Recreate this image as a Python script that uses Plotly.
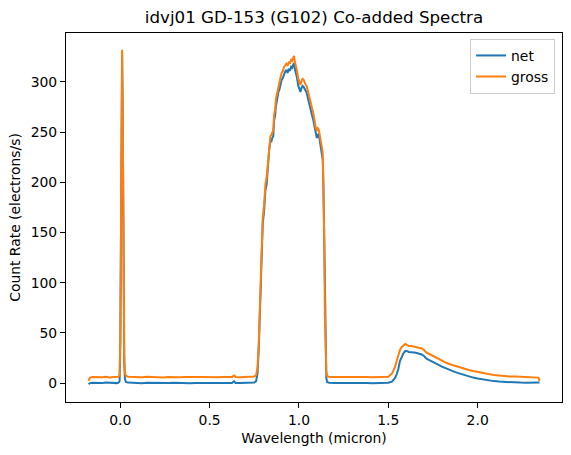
import plotly.graph_objects as go

# Wavelength (micron)
wavelength = [
    -0.178, -0.170, -0.155, -0.140, -0.120, -0.100, -0.080, -0.060, -0.040, -0.020,
    -0.010, -0.004, 0.000, 0.005, 0.010, 0.014, 0.018, 0.022, 0.026, 0.032,
    0.045, 0.06, 0.09, 0.12, 0.15, 0.18, 0.21, 0.24, 0.27, 0.30,
    0.33, 0.36, 0.39, 0.42, 0.45, 0.48, 0.51, 0.54, 0.57, 0.60,
    0.625, 0.637, 0.645, 0.67, 0.70, 0.73, 0.75, 0.76, 0.768, 0.775,
    0.782, 0.790, 0.797, 0.805, 0.812, 0.819, 0.826, 0.833, 0.840, 0.845,
    0.850, 0.856, 0.861, 0.866, 0.871, 0.875, 0.880, 0.885, 0.890, 0.896,
    0.903, 0.910, 0.916, 0.922, 0.929, 0.936, 0.943, 0.950, 0.956, 0.962,
    0.968, 0.972, 0.977, 0.983, 0.990, 0.996, 1.002, 1.008, 1.014, 1.020,
    1.026, 1.032, 1.038, 1.043, 1.050, 1.056, 1.062, 1.068, 1.074, 1.080,
    1.086, 1.091, 1.095, 1.100, 1.105, 1.110, 1.115, 1.121, 1.127, 1.133,
    1.137, 1.141, 1.145, 1.149, 1.153, 1.158, 1.17, 1.20, 1.23, 1.26,
    1.29, 1.32, 1.35, 1.38, 1.41, 1.44, 1.47, 1.50, 1.52, 1.537,
    1.547, 1.556, 1.565, 1.575, 1.585, 1.595, 1.603, 1.615, 1.630, 1.645,
    1.659, 1.672, 1.687, 1.700, 1.712, 1.724, 1.740, 1.760, 1.780, 1.800,
    1.827, 1.850, 1.875, 1.901, 1.925, 1.950, 1.975, 2.000, 2.030, 2.060,
    2.090, 2.120, 2.150, 2.180, 2.210, 2.240, 2.270, 2.300, 2.330, 2.340,
    2.346,
]

# Net count rate (electrons/s)
net = [
    -1.0, 0.0, 0.3, 0.1, 0.4, 0.2, 0.5, 0.1, 0.3, 0.0,
    0.5, 2.0, 40, 180, 327, 250, 90, 20, 4, 1.0,
    0.5, 0.3, 0.2, -0.1, 0.3, 0.1, 0.2, -0.2, 0.1, 0.3,
    0.0, 0.2, -0.1, 0.1, 0.2, 0.0, 0.1, -0.1, 0.2, 0.0,
    0.1, 1.8, 0.2, 0.0, 0.1, 0.3, 0.6, 2, 10, 35,
    80, 130, 158, 172, 192, 198, 216, 232, 241, 240,
    244, 246, 262, 266, 276, 281, 286, 290, 292, 298,
    302, 304, 308, 310, 312, 309, 313, 311, 315, 314,
    317, 319, 313, 309, 303, 296, 293, 290, 294, 296,
    295, 292, 291, 289, 283, 278, 275, 270, 266, 262,
    256, 250, 246, 244, 248, 247, 243, 236, 230, 222,
    195, 140, 60, 18, 5, 1.0, 0.3, 0.1, 0.2, -0.1,
    0.2, 0.0, 0.1, 0.2, -0.1, 0.1, 0.2, 0.3, 1.5, 5,
    9, 14, 22, 27, 30, 32, 32, 31, 31, 30.5,
    30, 29.5, 28.5, 27, 24.5, 23.5, 22, 20, 18, 16.5,
    14.5, 12.5, 11, 9.5, 8, 6.5, 5.5, 4.5, 3.5, 2.8,
    2, 1.5, 1.1, 0.8, 0.6, 0.5, 0.4, 0.4, 0.3, 0.4,
    0.5,
]

# Gross count rate (electrons/s)
gross = [
    2.4, 5.5, 6.0, 5.8, 6.2, 5.9, 6.3, 5.7, 6.1, 5.9,
    6.4, 8.0, 45, 190, 332, 258, 96, 26, 10, 7.0,
    6.4, 6.2, 6.1, 5.8, 6.3, 6.0, 6.2, 5.7, 6.0, 6.3,
    5.9, 6.1, 5.8, 6.1, 6.2, 5.9, 6.0, 5.8, 6.1, 5.9,
    6.0, 7.8, 6.1, 5.9, 6.0, 6.2, 6.6, 8, 16, 41,
    86, 137, 165, 178, 198, 205, 222, 238, 246, 247,
    250, 252, 268, 272, 283, 287, 292, 296, 299, 304,
    309, 311, 315, 317, 318, 316, 320, 318, 322, 321,
    324, 326, 320, 316, 310, 303, 300, 297, 301, 303,
    302, 299, 297, 296, 290, 285, 282, 277, 273, 269,
    263, 256, 253, 252, 254, 253, 249, 242, 236, 229,
    202, 147, 67, 25, 11, 7.0, 6.2, 6.0, 6.1, 5.8,
    6.1, 5.9, 6.0, 6.2, 5.8, 6.0, 6.1, 6.3, 9.5, 16,
    22, 29, 33, 36, 38, 39, 38, 37, 37, 36.5,
    36, 35.5, 34.5, 33, 30.5, 29.5, 28, 26, 24, 22,
    20, 18.5, 17, 15.5, 14, 13, 12, 11, 10, 9,
    8.2, 7.5, 7.0, 6.6, 6.5, 6.4, 6.3, 6.1, 5.9, 5.5,
    2.0,
]

x_ticks = [0.0, 0.5, 1.0, 1.5, 2.0]
x_tick_text = ["0.0", "0.5", "1.0", "1.5", "2.0"]
y_ticks = [0, 50, 100, 150, 200, 250, 300]
y_tick_text = ["0", "50", "100", "150", "200", "250", "300"]

FONT = "DejaVu Sans"

fig = go.Figure()
fig.add_trace(go.Scatter(x=wavelength, y=net, mode="lines", name="net",
                         line=dict(color="#1f77b4", width=2)))
fig.add_trace(go.Scatter(x=wavelength, y=gross, mode="lines", name="gross",
                         line=dict(color="#ff7f0e", width=2)))

axis_common = dict(
    showline=True, mirror=True, linecolor="black", linewidth=1.1,
    ticks="outside", ticklen=5, tickwidth=1.1, tickcolor="black",
    showgrid=False, zeroline=False,
    tickfont=dict(family=FONT, size=13.9, color="black"),
)

fig.update_layout(
    width=571, height=455,
    margin=dict(l=66, r=9, t=33, b=53),
    paper_bgcolor="white", plot_bgcolor="white",
    font=dict(family=FONT, color="black"),
    title=dict(text="idvj01 GD-153 (G102) Co-added Spectra",
               font=dict(family=FONT, size=16.7, color="black"),
               x=(314) / 571, xanchor="center",
               y=1 - 17.5 / 455, yanchor="middle", xref="container", yref="container"),
    xaxis=dict(range=[-0.304, 2.472], tickvals=x_ticks, ticktext=x_tick_text,
               title=dict(text="Wavelength (micron)", font=dict(family=FONT, size=13.9, color="black"),
                          standoff=6),
               **axis_common),
    yaxis=dict(range=[-18.8, 348.7], tickvals=y_ticks, ticktext=y_tick_text,
               title=dict(text="Count Rate (electrons/s)", font=dict(family=FONT, size=13.9, color="black"),
                          standoff=6),
               **axis_common),
    legend=dict(x=0.986, y=0.984, xanchor="right", yanchor="top",
                bordercolor="#cccccc", borderwidth=1, bgcolor="rgba(255,255,255,0.8)",
                font=dict(family=FONT, size=13.9, color="black"),
                tracegroupgap=0, itemwidth=30),
    showlegend=True,
)

fig.write_html("out.html")
